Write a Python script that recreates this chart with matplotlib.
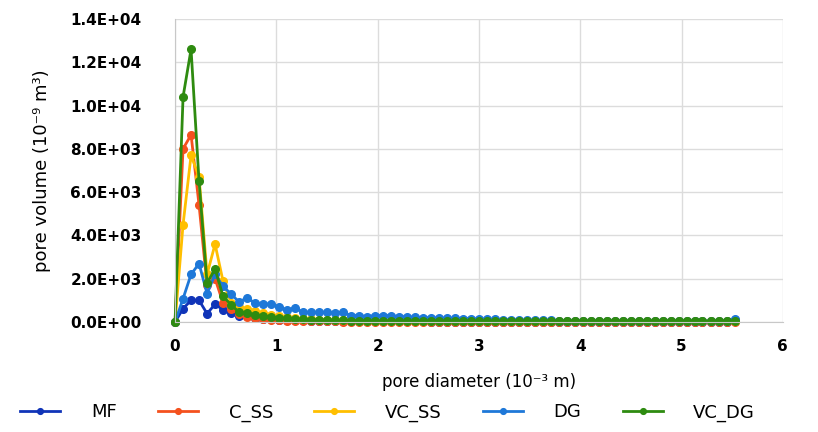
import numpy as np
import matplotlib
matplotlib.use("Agg")
import matplotlib.pyplot as plt

# данные (читаем с картинки)
diameter = [0.000, 0.079, 0.158, 0.237, 0.316, 0.395, 0.473, 0.552, 0.631, 0.710,
            0.789, 0.868, 0.947, 1.026, 1.105, 1.184, 1.262, 1.341, 1.420, 1.499,
            1.578, 1.657, 1.736, 1.815, 1.894, 1.973, 2.051, 2.130, 2.209, 2.288,
            2.367, 2.446, 2.525, 2.604, 2.683, 2.762, 2.840, 2.919, 2.998, 3.077,
            3.156, 3.235, 3.314, 3.393, 3.472, 3.551, 3.629, 3.708, 3.787, 3.866,
            3.945, 4.024, 4.103, 4.182, 4.261, 4.340, 4.418, 4.497, 4.576, 4.655,
            4.734, 4.813, 4.892, 4.971, 5.050, 5.129, 5.207, 5.286, 5.365, 5.444,
            5.523]

mf = [0, 620, 1000, 1000, 390, 820, 570, 430, 260, 300,
      200, 150, 120, 100, 90, 80, 70, 60, 60, 50,
      50, 45, 40, 40, 35, 35, 30, 30, 30, 25,
      25, 25, 20, 20, 20, 20, 20, 20, 20, 20,
      20, 20, 20, 20, 20, 20, 20, 20, 20, 20,
      20, 20, 20, 20, 20, 20, 20, 20, 20, 20,
      20, 20, 20, 20, 20, 20, 20, 20, 20, 20,
      90]

c_ss = [0, 8000, 8650, 5400, 1700, 2000, 900, 600, 350, 250,
        180, 120, 90, 70, 60, 50, 40, 35, 30, 30,
        25, 20, 20, 15, 15, 15, 10, 10, 10, 10,
        10, 10, 10, 10, 10, 10, 10, 10, 10, 10,
        10, 10, 10, 10, 10, 10, 10, 10, 10, 10,
        10, 10, 10, 10, 10, 10, 10, 10, 10, 10,
        10, 10, 10, 10, 10, 10, 10, 10, 10, 10,
        10]

vc_ss = [0, 4500, 7700, 6700, 2200, 3600, 1900, 900, 700, 600,
         520, 400, 330, 270, 220, 180, 150, 130, 110, 100,
         90, 80, 70, 60, 60, 50, 50, 45, 40, 40,
         35, 35, 30, 30, 30, 30, 30, 30, 30, 30,
         30, 30, 30, 30, 30, 60, 30, 30, 30, 30,
         30, 30, 30, 60, 30, 30, 30, 30, 30, 30,
         30, 60, 30, 30, 60, 30, 30, 30, 30, 30,
         30]

dg = [0, 1080, 2200, 2700, 1310, 2200, 1650, 1300, 930, 1110,
      880, 820, 850, 700, 560, 650, 450, 450, 450, 450,
      420, 450, 300, 300, 250, 300, 300, 300, 250, 250,
      220, 200, 200, 180, 180, 170, 160, 150, 140, 130,
      120, 110, 110, 100, 90, 80, 70, 70, 60, 60,
      50, 45, 45, 40, 40, 40, 40, 40, 40, 45,
      40, 40, 40, 40, 40, 40, 40, 40, 40, 40,
      150]

vc_dg = [0, 10400, 12600, 6500, 1800, 2450, 1200, 800, 460, 430,
         310, 270, 230, 200, 170, 150, 130, 115, 100, 90,
         80, 70, 65, 60, 55, 50, 50, 45, 45, 40,
         40, 40, 40, 40, 40, 40, 40, 40, 40, 40,
         40, 40, 40, 40, 40, 40, 40, 40, 40, 40,
         40, 40, 40, 40, 40, 40, 40, 40, 40, 40,
         40, 40, 40, 40, 40, 40, 40, 40, 40, 40,
         40]

series_names = ["MF", "C_SS", "VC_SS", "DG", "VC_DG"]
series_colors = ["#1034b8", "#f4511e", "#ffbf00", "#1e78d8", "#2e8b10"]

x_ticks = [0, 1, 2, 3, 4, 5, 6]
y_ticks = [0, 2000, 4000, 6000, 8000, 10000, 12000, 14000]
y_tick_labels = ["0.0E+00", "2.0E+03", "4.0E+03", "6.0E+03",
                 "8.0E+03", "1.0E+04", "1.2E+04", "1.4E+04"]

#график
fig = plt.figure(figsize=(8.18, 4.32), dpi=100)
ax = fig.add_axes([0.214, 0.2546, 0.743, 0.7014])

for yv, name, col in zip([mf, c_ss, vc_ss, dg, vc_dg], series_names, series_colors):
    ax.plot(diameter, yv, color=col, lw=2, marker="o", ms=5.5, label=name, clip_on=False)

ax.set_xlim(0, 6)
ax.set_ylim(0, 14000)
ax.set_xticks(x_ticks)
ax.set_yticks(y_ticks)
ax.set_yticklabels(y_tick_labels)
ax.tick_params(length=0, labelsize=11)
ax.tick_params(axis="y", pad=24)
ax.tick_params(axis="x", pad=12)
for lab in ax.get_xticklabels() + ax.get_yticklabels():
    lab.set_fontweight("bold")

ax.grid(True, color="#dcdcdc", lw=1)
ax.set_axisbelow(True)
for s in ["top", "right"]:
    ax.spines[s].set_visible(False)
for s in ["left", "bottom"]:
    ax.spines[s].set_color("#c8c8c8")

ax.set_ylabel("pore volume (10\u207b\u2079 m\u00b3)", fontsize=13, labelpad=14)
ax.set_xlabel("pore diameter (10\u207b\u00b3 m)", fontsize=12, labelpad=14)

fig.legend(loc="center", bbox_to_anchor=(0.474, 0.045), ncol=5, frameon=False,
           fontsize=13, handlelength=2.2, handletextpad=1.7, columnspacing=2.3,
           markerscale=0.75)

plt.savefig("out.png", dpi=100)
